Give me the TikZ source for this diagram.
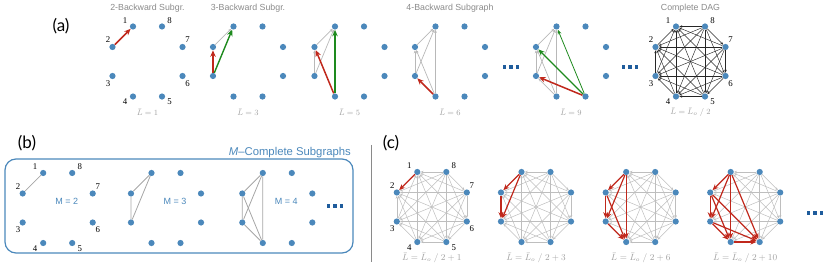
\documentclass[tikz,border=0pt]{standalone}
\usepackage[no-math]{fontspec}
\setmainfont{Liberation Sans}
\newfontfamily\serifnum{Liberation Serif}
\newfontfamily\panelfont{Lato}
\usetikzlibrary{arrows.meta}
\definecolor{nb}{HTML}{4B88BB}
\definecolor{dotc}{HTML}{1F5C9C}
\definecolor{rc}{HTML}{C0281C}
\definecolor{gc}{HTML}{1E8A1E}
\definecolor{ga}{HTML}{B8B8B8}
\definecolor{gl}{HTML}{BEBEBE}
\definecolor{hd}{HTML}{8A8A8A}
\definecolor{lb}{HTML}{A0A0A0}
\newcommand{\octa}[3]{%
  \foreach \k in {1,...,8}{%
    \pgfmathsetmacro\ang{112.5+45*(\k-1)}%
    \node[dot] (#1\k) at ([shift={(#2,#3)}]\ang:37.9) {};}}
\newcommand{\nums}[1]{%
  \node[numlab] at ([shift={(-8,6)}]#11.center) {1};
  \node[numlab] at ([shift={(-4.5,7)}]#12.center) {2};
  \node[numlab] at ([shift={(-4.5,-7.5)}]#13.center) {3};
  \node[numlab] at ([shift={(-8,-5.5)}]#14.center) {4};
  \node[numlab] at ([shift={(7.5,-5.5)}]#15.center) {5};
  \node[numlab] at ([shift={(5,-7.5)}]#16.center) {6};
  \node[numlab] at ([shift={(5,7)}]#17.center) {7};
  \node[numlab] at ([shift={(7.5,6)}]#18.center) {8};}
\newcommand{\moredots}[2]{%
  \foreach \d in {-6.5,0,6.5}{\node[sqdot] at ({#1+(\d)},#2) {};}}
\newcommand{\cgraph}[2]{%
  \foreach \j in {2,...,8}{%
    \pgfmathtruncatemacro\jm{\j-1}%
    \foreach \i in {1,...,\jm}{%
      \ifnum\j>#2\relax
        \draw[ce] (#1\j) -- (#1\i);
      \fi}}%
  \foreach \j in {2,...,8}{%
    \pgfmathtruncatemacro\jm{\j-1}%
    \foreach \i in {1,...,\jm}{%
      \ifnum\j>#2\relax\else
        \draw[rce] (#1\i) -- (#1\j);
      \fi}}}
\begin{document}
\begin{tikzpicture}[x=1pt,y=1pt,
  dot/.style={circle,fill=nb,inner sep=0pt,minimum size=6.2pt},
  sqdot/.style={rectangle,fill=dotc,inner sep=0pt,minimum size=3.6pt},
  numlab/.style={font=\serifnum\fontsize{8.8}{9}\selectfont,inner sep=0pt},
  hdr/.style={font=\fontsize{8.8}{10}\selectfont,text=hd,inner sep=0pt},
  llab/.style={text=lb,inner sep=0pt,font=\fontsize{8.5}{10}\selectfont},
  clab/.style={text=lb,inner sep=0pt,font=\fontsize{9}{10}\selectfont},
  panel/.style={font=\panelfont\fontsize{17}{18}\selectfont,inner sep=0pt},
  mlab/.style={font=\fontsize{9}{10}\selectfont,text=nb,inner sep=0pt},
  ge/.style={draw=ga,line width=0.7pt,-{Stealth[length=3pt,width=2.6pt]}},
  re/.style={draw=rc,line width=1.5pt,-{Stealth[length=6.5pt,width=5.5pt]}},
  gre/.style={draw=gc,line width=1.4pt,-{Stealth[length=6.5pt,width=5.5pt]}},
  grt/.style={draw=gc,line width=0.8pt,-{Stealth[length=5pt,width=4pt]}},
  be/.style={draw=black!85,line width=0.45pt,-{Stealth[length=3pt,width=2.4pt]}},
  ce/.style={draw=gl,line width=0.5pt,-{Stealth[length=3pt,width=2.4pt]}},
  rce/.style={draw=rc,line width=1.2pt,-{Stealth[length=6pt,width=5pt]}},
  ue/.style={draw=ga!90!black,line width=0.8pt}]
\useasboundingbox (0,0) rectangle (830,270);
% ---------- (a) ----------
\node[panel] (pa) at (61,244) {(a)};
\octa{p}{147.5}{208.5}
\octa{q}{248}{208.5}
\octa{r}{349.5}{208.5}
\octa{s}{450}{208.5}
\octa{t}{571}{208.5}
\octa{f}{690.5}{208.5}
\nums{p}
\nums{f}
\node[hdr] (hdA) at (147.5,262) {2-Backward Subgr.};
\node[hdr] (hdB) at (248,262) {3-Backward Subgr.};
\node[hdr] (hdC) at (450,262) {4-Backward Subgraph};
\node[hdr] (hdD) at (690.5,262) {Complete DAG};
\node[llab] (lA) at (147.5,158) {$\bar{L}=1$};
\node[llab] (lB) at (248,158) {$\bar{L}=3$};
\node[llab] (lC) at (349.5,158) {$\bar{L}=5$};
\node[llab] (lD) at (450,158) {$\bar{L}=6$};
\node[llab] (lE) at (571,158) {$\bar{L}=9$};
\node[llab] (lF) at (690.5,158) {$\bar{L}=\bar{L}_o\;/\;2$};
% graph 1
\draw[re] (p2) -- (p1);
% graph 2
\draw[ge] (q2) -- (q1);
\draw[re] (q3) -- (q2);
\draw[gre] (q3) -- (q1);
% graph 3
\draw[ge] (r2) -- (r1);
\draw[ge] (r3) -- (r2);
\draw[ge] (r3) -- (r1);
\draw[re] (r4) -- (r2);
\draw[gre] (r4) -- (r1);
% graph 4
\draw[ge] (s2) -- (s1);
\draw[ge] (s3) -- (s2);
\draw[ge] (s3) -- (s1);
\draw[ge] (s4) -- (s2);
\draw[ge] (s4) -- (s1);
\draw[re] (s4) -- (s3);
% graph 5
\draw[ge] (t2) -- (t1);
\draw[ge] (t3) -- (t2);
\draw[ge] (t3) -- (t1);
\draw[ge] (t4) -- (t2);
\draw[ge] (t4) -- (t1);
\draw[ge] (t4) -- (t3);
\draw[re] (t5) -- (t3);
\draw[gre] (t5) -- (t2);
\draw[grt] (t5) -- (t1);
% complete DAG
\foreach \j in {2,...,8}{%
  \pgfmathtruncatemacro\jm{\j-1}%
  \foreach \i in {1,...,\jm}{\draw[be] (f\j) -- (f\i);}}
\moredots{511}{203}
\moredots{630}{203}
% ---------- (b) ----------
\node[panel] (pb) at (27,126.5) {(b)};
\draw[draw=nb,line width=1.2pt,rounded corners=11pt] (5,17) rectangle (353,111);
\node[font=\fontsize{11.3}{12}\selectfont,text=nb,anchor=base east,inner sep=0pt] (mt) at (351,114) {\textit{M}--Complete Subgraphs};
\octa{m}{57.7}{62}
\octa{n}{166}{62}
\octa{o}{277.3}{62}
\nums{m}
\node[mlab] (mlA) at (66.7,69) {M = 2};
\node[mlab] (mlB) at (175,69) {M = 3};
\node[mlab] (mlC) at (286.3,69) {M = 4};
\draw[ue] (m2) -- (m1);
\draw[ue] (n1) -- (n2) -- (n3) -- (n1);
\draw[ue] (o1) -- (o2) -- (o3) -- (o4) -- (o1);
\draw[ue] (o1) -- (o3);
\draw[ue] (o2) -- (o4);
\moredots{335}{64}
% separator
\draw[draw=hd,line width=0.8pt] (371,125) -- (371,8);
% ---------- (c) ----------
\node[panel] (pc) at (391,126.5) {(c)};
\octa{c}{431.8}{63}
\octa{d}{536}{63}
\octa{e}{640.7}{63}
\octa{h}{745.2}{63}
\nums{c}
\cgraph{c}{2}
\cgraph{d}{3}
\cgraph{e}{4}
\cgraph{h}{5}
\node[clab] (kA) at (431.8,12) {$\bar{L}=\bar{L}_o\;/\;2+1$};
\node[clab] (kB) at (536,12) {$\bar{L}=\bar{L}_o\;/\;2+3$};
\node[clab] (kC) at (640.7,12) {$\bar{L}=\bar{L}_o\;/\;2+6$};
\node[clab] (kD) at (745.2,12) {$\bar{L}=\bar{L}_o\;/\;2+10$};
\moredots{815}{57}
\end{tikzpicture}
\end{document}
